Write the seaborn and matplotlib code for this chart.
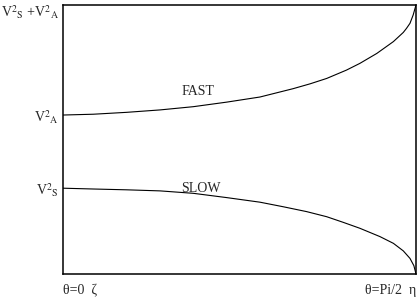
import numpy as np
import pandas as pd
import seaborn as sns
import matplotlib
matplotlib.use("Agg")
import matplotlib.pyplot as plt
from matplotlib.transforms import ScaledTranslation

# values, x and y as fractions of the axis range
x_fast = [0.0, 0.086, 0.180, 0.275, 0.369, 0.464, 0.558, 0.652, 0.700, 0.747,
          0.803, 0.841, 0.889, 0.936, 0.964, 0.973, 0.983, 0.992, 1.0]
fast = [0.591, 0.594, 0.601, 0.610, 0.622, 0.639, 0.658, 0.689, 0.707, 0.727,
        0.758, 0.783, 0.820, 0.864, 0.898, 0.913, 0.932, 0.963, 1.0]
x_slow = [0.0, 0.086, 0.180, 0.275, 0.369, 0.464, 0.558, 0.624, 0.690, 0.747,
          0.794, 0.841, 0.898, 0.936, 0.945, 0.964, 0.983, 0.994, 1.0]
slow = [0.319, 0.316, 0.313, 0.309, 0.300, 0.284, 0.267, 0.250, 0.232, 0.213,
        0.192, 0.170, 0.139, 0.114, 0.105, 0.086, 0.058, 0.031, 0.0]

ytick_pos = [0.320, 0.591, 1.0]
ytick_lab = ["V$^2$$_\\mathrm{S}$", "V$^2$$_\\mathrm{A}$",
             "V$^2$$_\\mathrm{S}$ +V$^2$$_\\mathrm{A}$"]
xtick_pos = [0.0, 1.0]
xtick_lab = ["\u03b8=0  \u03b6", "\u03b8=Pi/2  \u03b7"]

df_fast = pd.DataFrame({"x": x_fast, "y": fast})
df_slow = pd.DataFrame({"x": x_slow, "y": slow})

sns.set_style("white")
plt.rcParams["font.family"] = ["Liberation Serif", "DejaVu Serif"]
plt.rcParams["mathtext.fontset"] = "stix"

fig = plt.figure(figsize=(4.18, 2.98), dpi=100)
ax = fig.add_axes([0.1507, 0.0805, 0.8445, 0.9027])

sns.lineplot(data=df_fast, x="x", y="y", color="black", linewidth=0.8,
             estimator=None, sort=False, ax=ax)
sns.lineplot(data=df_slow, x="x", y="y", color="black", linewidth=0.8,
             estimator=None, sort=False, ax=ax)

ax.text(0.382, 0.680, "FAST", ha="center", va="center", fontsize=10)
ax.text(0.391, 0.318, "SLOW", ha="center", va="center", fontsize=10)

ax.set_xlim(0, 1)
ax.set_ylim(0, 1)
ax.set_xlabel("")
ax.set_ylabel("")
ax.set_yticks(ytick_pos)
ax.set_yticklabels(ytick_lab, fontsize=10)
ax.set_xticks(xtick_pos)
ax.set_xticklabels(xtick_lab, fontsize=10)
lbls = ax.get_xticklabels()
lbls[0].set_ha("left")
lbls[1].set_ha("right")
ax.tick_params(axis="x", length=0, pad=7)
ax.tick_params(axis="y", length=0, pad=3)

# top label sits a little lower so it stays inside the figure
top = ax.get_yticklabels()[2]
top.set_transform(top.get_transform() + ScaledTranslation(0, -4 / 72, fig.dpi_scale_trans))

for s in ax.spines.values():
    s.set_color("black")
    s.set_linewidth(1.1)

fig.savefig("out.png", dpi=100)
